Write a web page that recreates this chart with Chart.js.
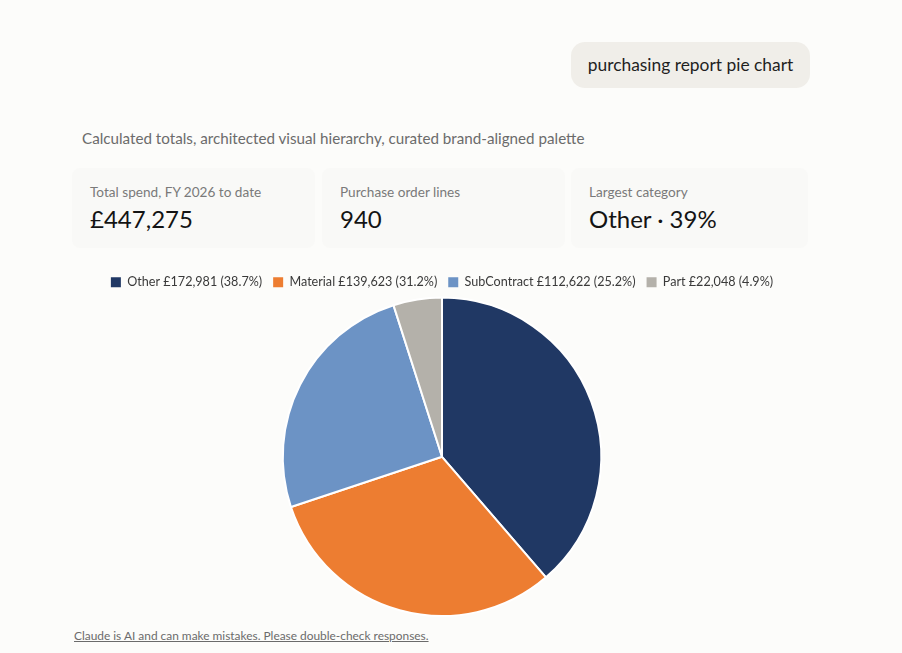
<!DOCTYPE html>
<html>
<head>
<meta charset="utf-8">
<script src="https://cdn.jsdelivr.net/npm/chart.js@4.4.1/dist/chart.umd.min.js"></script>
<style>
  html, body { margin:0; padding:0; background:#fcfcfa; width:902px; height:653px; overflow:hidden; font-family: Lato, "Noto Sans", sans-serif; }
  .bubble { position:absolute; left:571px; top:42px; width:239px; height:46px; background:#f0eee9; border-radius:14px; color:#1f1f1f; font-size:17.4px; line-height:46px; text-align:center; }
  .sub { position:absolute; left:82px; top:129px; font-size:15.2px; color:#6b6b6b; }
  .card { position:absolute; top:168px; height:80px; width:243px; background:#f9f9f7; border-radius:8px; }
  .card .lbl { position:absolute; left:18px; top:16px; font-size:13.6px; color:#7a7a7a; }
  .card .val { position:absolute; left:18px; top:36px; font-size:24px; color:#141414; }
  .wrap { position:absolute; left:72px; top:265px; width:740px; height:352px; }
  .foot { position:absolute; left:74px; top:628px; font-size:11.9px; color:#6b6b6b; text-decoration:underline; }
</style>
</head>
<body>
<div class="bubble">purchasing report pie chart</div>
<div class="sub">Calculated totals, architected visual hierarchy, curated brand-aligned palette</div>
<div class="card" style="left:72px;"><div class="lbl">Total spend, FY 2026 to date</div><div class="val">£447,275</div></div>
<div class="card" style="left:322px;"><div class="lbl">Purchase order lines</div><div class="val">940</div></div>
<div class="card" style="left:571px;width:237px;"><div class="lbl">Largest category</div><div class="val">Other · 39%</div></div>
<div class="wrap"><canvas id="c"></canvas></div>
<div class="foot">Claude is AI and can make mistakes. Please double-check responses.</div>
<script>
const categories = ["Other", "Material", "SubContract", "Part"];
const spend = [172981, 139623, 112622, 22048];
const colors = ["#203864", "#ED7D31", "#6C93C5", "#B4B1AA"];

const total = spend.reduce((a, b) => a + b, 0);
const fmt = v => "£" + v.toLocaleString("en-GB");

const legendTrim = {
  id: "legendTrim",
  beforeInit(chart) {
    const lg = chart.legend;
    if (!lg) return;
    const orig = lg.fit;
    lg.fit = function () { orig.call(this); this.height -= 2; };
  }
};

new Chart(document.getElementById("c"), {
  type: "pie",
  data: {
    labels: categories,
    datasets: [{ data: spend, backgroundColor: colors, borderColor: "#ffffff", borderWidth: 2 }]
  },
  plugins: [legendTrim],
  options: {
    responsive: true,
    maintainAspectRatio: false,
    animation: false,
    layout: { padding: 0 },
    plugins: {
      tooltip: { enabled: false },
      legend: {
        position: "top",
        labels: {
          font: { family: "Lato", size: 12.6 },
          color: "#3a3a3a",
          boxWidth: 10,
          boxHeight: 10,
          padding: 11,
          generateLabels(chart) {
            const ds = chart.data.datasets[0];
            return chart.data.labels.map((l, i) => ({
              text: `${l} ${fmt(ds.data[i])} (${(ds.data[i] / total * 100).toFixed(1)}%)`,
              fillStyle: colors[i],
              strokeStyle: colors[i],
              lineWidth: 0,
              fontColor: "#3a3a3a",
              index: i
            }));
          }
        }
      }
    }
  }
});
</script>
</body>
</html>
